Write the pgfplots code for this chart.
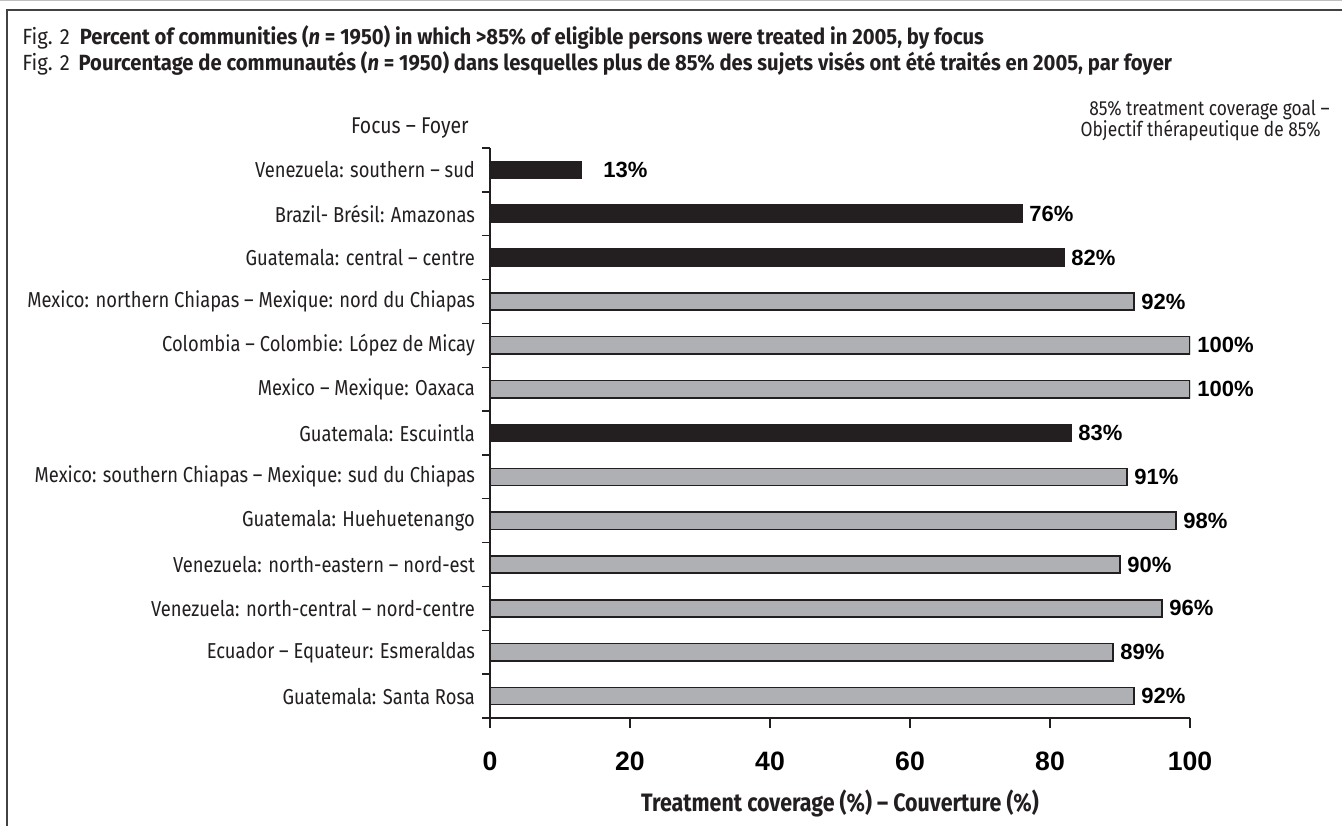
\documentclass[border=0pt]{standalone}
\usepackage{pgfplots}
\pgfplotsset{compat=1.18}
\usepackage{fontspec}
\setmainfont{Fira Sans}[FakeStretch=0.85]
\newfontfamily\titlefont{Fira Sans}[FakeStretch=0.92]
\newfontfamily\arialfont{Liberation Sans}
\definecolor{ink}{HTML}{231F20}
\definecolor{barg}{HTML}{AEB0B3}
\begin{document}
\begin{tikzpicture}
\useasboundingbox (0,0) rectangle (671pt,-412.5pt);
\fill[white] (0,0) rectangle (671pt,-412.5pt);
\draw[gray!50, line width=0.6pt] (0,-0.4pt) -- (671pt,-0.4pt);
\draw[ink!85, line width=1pt] (3.5pt,-413pt) -- (3.5pt,-5pt) -- (672pt,-5pt);
\node[anchor=base west, inner sep=0, font=\titlefont\fontsize{11}{13}\selectfont, text=ink] at (11pt,-22pt)
 {Fig. 2\hspace{0.45em}\textbf{Percent of communities (\textit{n} = 1950) in which >85\% of eligible persons were treated in 2005, by focus}};
\node[anchor=base west, inner sep=0, font=\titlefont\fontsize{11}{13}\selectfont, text=ink] at (11pt,-35pt)
 {Fig. 2\hspace{0.4em}\textbf{Pourcentage de communautés (\textit{n} = 1950) dans lesquelles plus de 85\% des sujets visés ont été traités en 2005, par foyer}};
\node[anchor=base east, inner sep=0, font=\fontsize{11.4}{12}\selectfont, text=ink] at (234.5pt,-66.5pt) {Focus – Foyer};
\node[anchor=base east, inner sep=0, font=\fontsize{10.2}{12}\selectfont, text=ink] at (665pt,-57.5pt) {85\% treatment coverage goal –};
\node[anchor=base east, inner sep=0, font=\fontsize{10.2}{12}\selectfont, text=ink] at (660.5pt,-68pt) {Objectif thérapeutique de 85\%};
\node[anchor=base, inner sep=0, font=\fontsize{12.6}{14}\selectfont\bfseries, text=ink] at (420pt,-405.5pt) {Treatment coverage (\%) – Couverture (\%)};
\begin{axis}[
 at={(245pt,-359pt)}, anchor=south west,
 scale only axis, width=350pt, height=285pt,
 xmin=0, xmax=100, ymin=-0.5, ymax=12.5,
 axis lines*=left,
 xtick={0,20,...,100}, ytick={0,...,12},
 minor ytick={-0.5,0.5,...,12.5},
 yticklabels={Guatemala: Santa Rosa, Ecuador – Equateur: Esmeraldas, Venezuela: north-central – nord-centre, Venezuela: north-eastern – nord-est, Guatemala: Huehuetenango, Mexico: southern Chiapas – Mexique: sud du Chiapas, Guatemala: Escuintla, Mexico – Mexique: Oaxaca, Colombia – Colombie: López de Micay, Mexico: northern Chiapas – Mexique: nord du Chiapas, Guatemala: central – centre, Brazil- Brésil: Amazonas, Venezuela: southern – sud},
 tick align=outside, major tick length=5pt, minor tick length=4pt,
 major y tick style={draw=none},
 axis line style={ink, line width=0.7pt},
 tick style={ink, line width=0.7pt},
 /pgf/number format/assume math mode=true,
 xticklabel style={font=\arialfont\bfseries\fontsize{13.3}{15}\selectfont, text=black, yshift=-8.5pt},
 yticklabel style={font=\fontsize{10.8}{12}\selectfont, text=ink, xshift=1pt},
 xbar, bar width=8.6pt,
 point meta=x,
 nodes near coords={\pgfmathprintnumber{\pgfplotspointmeta}\%},
 every node near coord/.append style={anchor=west, font=\arialfont\bfseries\fontsize{11}{13}\selectfont, text=black},
]
\addplot[bar shift=0pt, fill=ink, draw=ink, line width=0.75pt, every node near coord/.append style={xshift=7.5pt}] coordinates {(13,12)};
\addplot[bar shift=0pt, fill=ink, draw=ink, line width=0.75pt] coordinates {(76,11) (82,10) (83,6)};
\addplot[bar shift=0pt, fill=barg, draw=ink, line width=0.75pt] coordinates {(92,9) (100,8) (100,7) (91,5) (98,4) (90,3) (96,2) (89,1) (92,0)};
\end{axis}
\end{tikzpicture}
\end{document}
